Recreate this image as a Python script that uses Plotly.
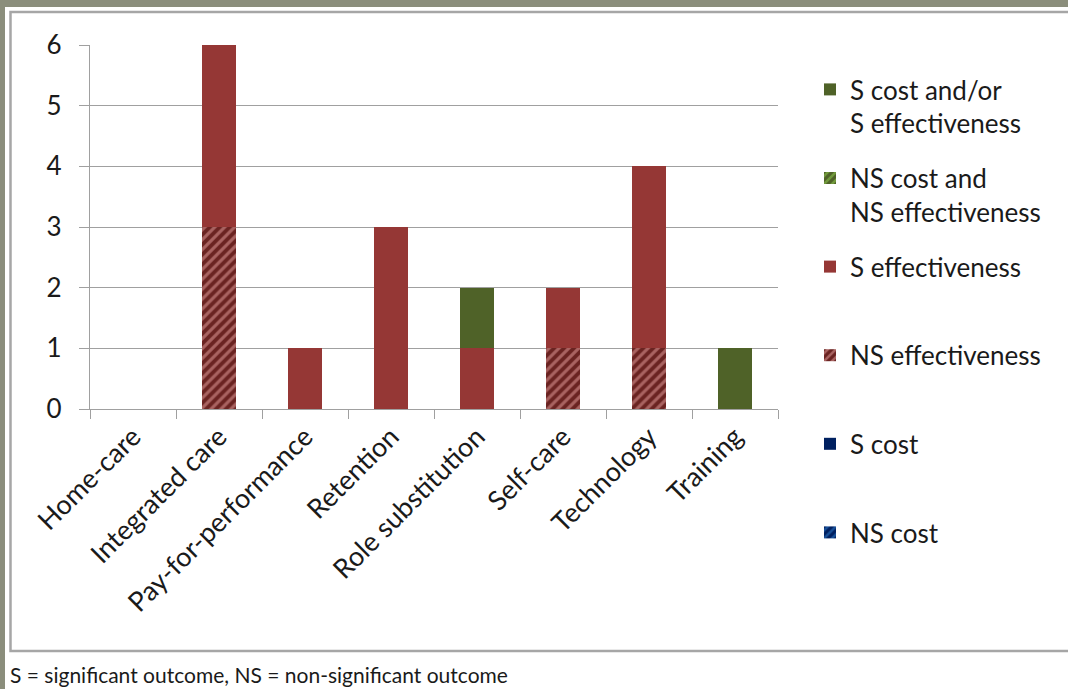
import plotly.graph_objects as go

categories = ["Home-care", "Integrated care", "Pay-for-performance", "Retention",
              "Role substitution", "Self-care", "Technology", "Training"]
ns_cost = [0, 0, 0, 0, 0, 0, 0, 0]
s_cost = [0, 0, 0, 0, 0, 0, 0, 0]
ns_effectiveness = [0, 3, 0, 0, 0, 1, 1, 0]
s_effectiveness = [0, 3, 1, 3, 1, 1, 3, 0]
ns_cost_and_ns_eff = [0, 0, 0, 0, 0, 0, 0, 0]
s_cost_and_or_s_eff = [0, 0, 0, 0, 1, 0, 0, 1]
y_ticks = [0, 1, 2, 3, 4, 5, 6]

W, H = 1068, 689
L, R, T, B = 90, 778, 45, 409  # plot area in pixels

def px_x(px):
    return (px - L) / (R - L)

def px_y(py):
    return (B - py) / (B - T)

FONT = "Lato"

fig = go.Figure()

def add(name, vals, color, rank, pattern=None):
    marker = dict(color=color, line=dict(width=0))
    if pattern:
        marker["pattern"] = pattern
    fig.add_trace(go.Bar(x=categories, y=vals, name=name, marker=marker,
                         legendgroup=name, legendrank=rank, hoverinfo="skip"))

add("NS cost<br> ", ns_cost, "#002060", 6,
    dict(shape="/", fgcolor="#2e7fd0", bgcolor="#002060", size=7, solidity=0.45))
add("S cost<br> ", s_cost, "#002060", 5)
add("NS effectiveness<br> ", ns_effectiveness, "#6a2321", 4,
    dict(shape="/", fgcolor="#e7a3a2", bgcolor="#6a2321", size=7, solidity=0.45))
add("S effectiveness<br> ", s_effectiveness, "#953735", 3)
add("NS cost and<br>NS effectiveness", ns_cost_and_ns_eff, "#4f6228", 2,
    dict(shape="/", fgcolor="#92d050", bgcolor="#4f6228", size=7, solidity=0.45))
add("S cost and/or<br>S effectiveness", s_cost_and_or_s_eff, "#4f6228", 1)

grid = "#a0a0a0"
fig.update_layout(
    width=W, height=H,
    margin=dict(l=L, r=W - R, t=T, b=H - B, pad=0, autoexpand=False),
    paper_bgcolor="white", plot_bgcolor="white",
    barmode="stack", bargap=0.605,
    font=dict(family=FONT, color="#1a1a1a"),
    showlegend=True,
    legend=dict(x=px_x(810), y=px_y(66), xanchor="left", yanchor="top",
                maxheight=620,
                traceorder="grouped", tracegroupgap=18, valign="top",
                font=dict(family=FONT, size=26, color="#1a1a1a"),
                bgcolor="rgba(0,0,0,0)", itemclick=False),
    xaxis=dict(type="category", categoryorder="array", categoryarray=categories,
               tickangle=-45, tickfont=dict(size=27, family=FONT, color="#1a1a1a"),
               showline=True, linecolor=grid, linewidth=1.3,
               ticks="outside", ticklen=9, tickcolor=grid, tickwidth=1.3,
               tickson="boundaries", showgrid=False, automargin=False),
    yaxis=dict(range=[0, 6], tickvals=y_ticks, ticktext=[str(v) for v in y_ticks],
               tickfont=dict(size=26, family=FONT, color="#1a1a1a"),
               ticklabelstandoff=12,
               showline=True, linecolor=grid, linewidth=1.3,
               ticks="outside", ticklen=10, tickcolor=grid, tickwidth=1.3,
               showgrid=True, gridcolor=grid, gridwidth=1.3, zeroline=False,
               automargin=False),
    shapes=[
        dict(type="rect", xref="paper", yref="paper", layer="above",
             x0=px_x(-5), x1=px_x(1080), y0=px_y(7), y1=px_y(-5),
             fillcolor="#8b8e7c", line=dict(width=0)),
        dict(type="rect", xref="paper", yref="paper", layer="above",
             x0=px_x(-5), x1=px_x(5), y0=px_y(700), y1=px_y(-5),
             fillcolor="#8b8e7c", line=dict(width=0)),
        dict(type="rect", xref="paper", yref="paper", layer="above",
             x0=px_x(10.5), x1=px_x(1080), y0=px_y(651), y1=px_y(12),
             fillcolor="rgba(0,0,0,0)", line=dict(color="#a6a6a6", width=2.5)),
    ],
    annotations=[
        dict(text="S = significant outcome, NS = non-significant outcome",
             xref="paper", yref="paper", x=px_x(8), y=px_y(674),
             xanchor="left", yanchor="middle", showarrow=False,
             font=dict(family=FONT, size=21, color="#1a1a1a")),
    ],
)

fig.write_html("out.html")
